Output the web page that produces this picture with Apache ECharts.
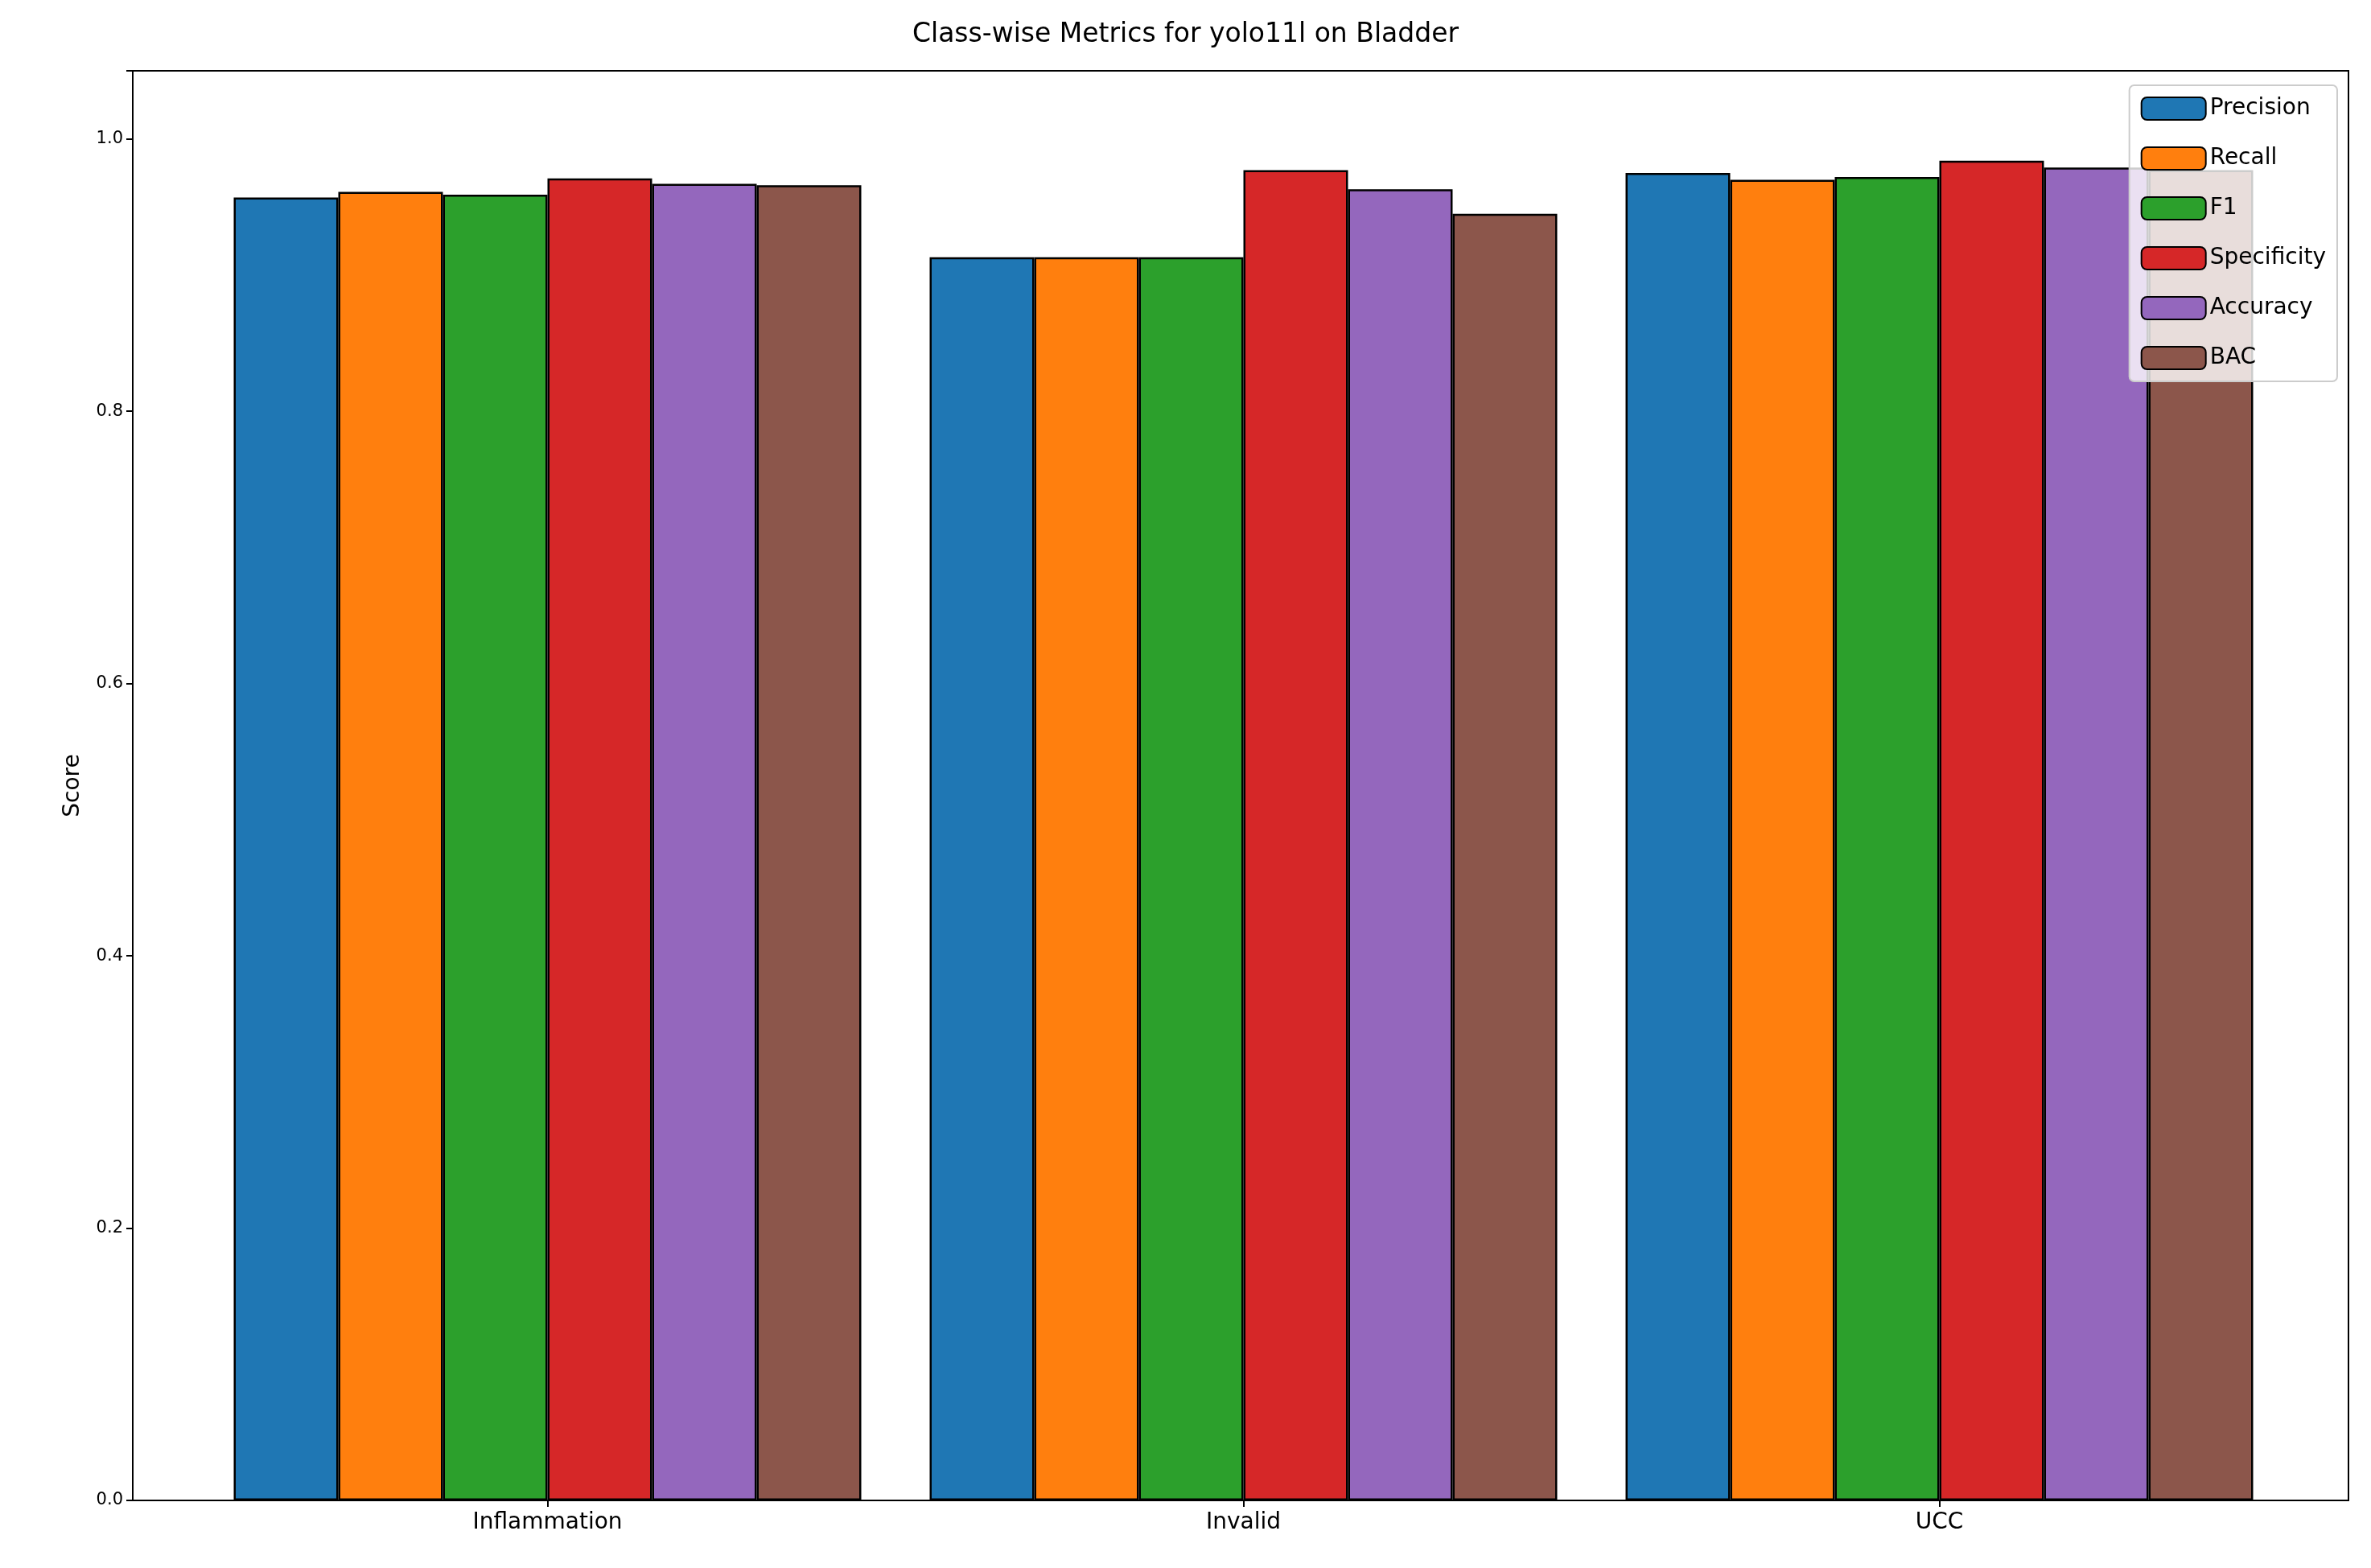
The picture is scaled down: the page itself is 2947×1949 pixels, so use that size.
<!DOCTYPE html>
<html><head><meta charset="utf-8">
<script src="https://cdn.jsdelivr.net/npm/echarts@6/dist/echarts.min.js"></script>
<style>html,body{margin:0;padding:0;background:#fff}#c{width:2947px;height:1949px}</style>
</head><body><div id="c"></div>
<script>
const categories = ['Inflammation', 'Invalid', 'UCC'];
const metrics = ['Precision', 'Recall', 'F1', 'Specificity', 'Accuracy', 'BAC'];
const colors = ['#1f77b4', '#ff7f0e', '#2ca02c', '#d62728', '#9467bd', '#8c564b'];
const precision = [0.957, 0.913, 0.975];
const recall = [0.961, 0.913, 0.970];
const f1 = [0.959, 0.913, 0.972];
const specificity = [0.971, 0.977, 0.984];
const accuracy = [0.967, 0.963, 0.979];
const bac = [0.966, 0.945, 0.977];
const values = [precision, recall, f1, specificity, accuracy, bac];
const yTicks = ['0.0','0.2','0.4','0.6','0.8','1.0'];

const font = 'DejaVu Sans';
const chart = echarts.init(document.getElementById('c'));
chart.setOption({
  animation: false,
  textStyle: {fontFamily: font},
  title: {text: 'Class-wise Metrics for yolo11l on Bladder', left: 'center', top: 22,
    textStyle: {fontFamily: font, fontSize: 33, fontWeight: 'normal', color: '#000'}},
  grid: [
    {left: 165, right: 28, top: 88, bottom: 84, show: true, borderColor: '#000', borderWidth: 2, backgroundColor: 'transparent', z: 10},
    {left: 248, right: 104, top: 88, bottom: 84}
  ],
  xAxis: [
    {gridIndex: 0, type: 'value', show: false, min: 0, max: 1},
    {gridIndex: 1, type: 'category', data: categories,
      axisLine: {show: false},
      axisTick: {show: true, alignWithLabel: true, length: 8, lineStyle: {color: '#000', width: 2}},
      axisLabel: {fontSize: 28, color: '#000', margin: 14, fontFamily: font}}
  ],
  yAxis: [
    {gridIndex: 0, type: 'value', show: false, min: 0, max: 1},
    {gridIndex: 1, type: 'value', min: 0, max: 1.05, interval: 0.2, offset: 83,
      name: 'Score', nameLocation: 'middle', nameGap: 60,
      nameTextStyle: {fontSize: 28, color: '#000', fontFamily: font},
      splitLine: {show: false},
      axisLine: {show: false},
      axisTick: {show: true, length: 8, lineStyle: {color: '#000', width: 2}},
      axisLabel: {fontSize: 21, color: '#000', margin: 12, fontFamily: font,
        formatter: v => { const i = Math.round(v / 0.2); return Math.abs(v - i*0.2) < 1e-6 ? yTicks[i] : ''; }}}
  ],
  legend: {right: 42, top: 106, orient: 'vertical', itemWidth: 80, itemHeight: 28, itemGap: 32,
    backgroundColor: 'rgba(255,255,255,0.8)', borderColor: '#ccc', borderWidth: 2, borderRadius: 6,
    padding: [14, 14, 14, 14], textStyle: {fontSize: 28, color: '#000', fontFamily: font},
    data: metrics, z: 20},
  series: metrics.map((m, k) => ({
    name: m, type: 'bar', xAxisIndex: 1, yAxisIndex: 1, data: values[k],
    barWidth: 130, barGap: '0%',
    itemStyle: {color: colors[k], borderColor: '#000', borderWidth: 2.5}
  }))
});
</script></body></html>
